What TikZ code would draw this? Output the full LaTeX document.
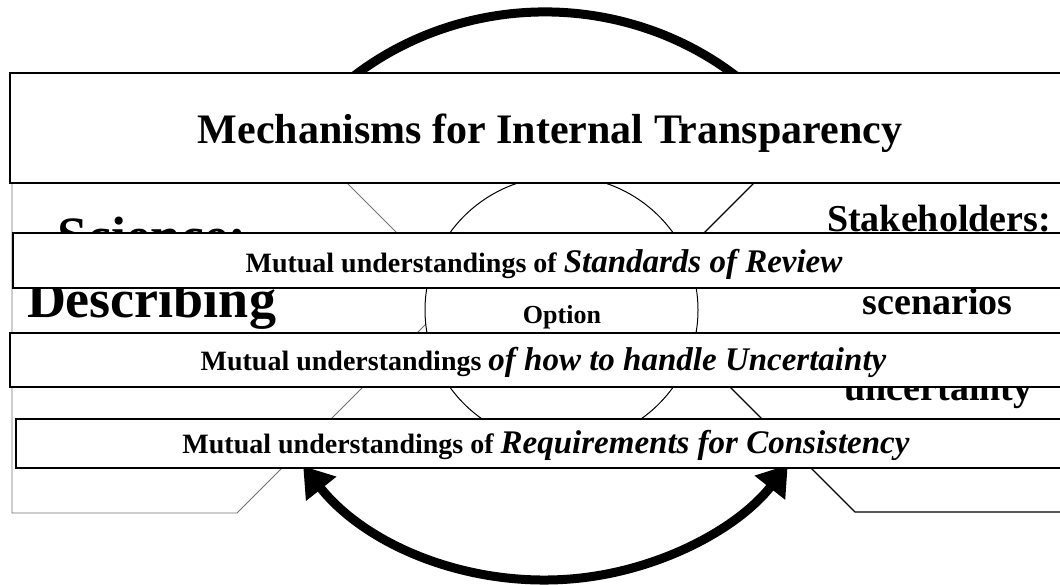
\documentclass[tikz,border=0pt]{standalone}
\usepackage{fontspec}
\setmainfont{Liberation Serif}
\usetikzlibrary{arrows.meta,shapes.geometric}
\begin{document}
\begin{tikzpicture}[x=1pt,y=-1pt,
  band/.style={draw=black, line width=2pt, fill=white},
  cycarc/.style={draw=black, line width=9pt},
  leftchev/.style={draw=black!55, line width=0.8pt, fill=white},
  rightchev/.style={draw=black, line width=1.3pt, fill=white},
  optcircle/.style={draw=black, line width=1pt, fill=white},
  sidetext/.style={anchor=base, inner sep=0pt, font=\bfseries},
  bandtext/.style={anchor=base, inner sep=0pt}]
\useasboundingbox (0,0) rectangle (1060,584);
\clip (0,0) rectangle (1060,584);

% cycle arcs
\coordinate (cyc) at (545,296);
\draw[cycarc] (cyc) ++(200:302 and 284) arc[start angle=200, end angle=340, x radius=302, y radius=284];
\draw[cycarc, {Triangle[length=29pt,width=37pt]}-{Triangle[length=29pt,width=37pt]}]
  (cyc) ++(143.2:302 and 284) arc[start angle=143.2, end angle=36.5, x radius=302, y radius=284];

% chevrons
\draw[leftchev] (12,73) -- (237,73) -- (457,293) -- (237,513) -- (12,513) -- cycle;
\draw[rightchev] (1075,73) -- (864,73) -- (640,297) -- (855,512) -- (1075,512) -- cycle;

% central option circle
\node[optcircle, ellipse, minimum width=273pt, minimum height=268pt, inner sep=0pt] (opt) at (561.5,310) {};
\node[sidetext, font=\bfseries\fontsize{26}{30}\selectfont] (opttext) at (562,323) {Option};

% side texts
\node[sidetext, font=\bfseries\fontsize{54}{60}\selectfont] (sci) at (151.5,254) {Science:};
\node[sidetext, font=\bfseries\fontsize{54}{60}\selectfont] (desc) at (151.5,317) {Describing};
\node[sidetext, font=\bfseries\fontsize{38}{44}\selectfont] (stake) at (939,231) {Stakeholders:};
\node[sidetext, font=\bfseries\fontsize{38}{44}\selectfont] (scen) at (937.5,314) {scenarios};
\node[sidetext, font=\bfseries\fontsize{38}{44}\selectfont] (unc) at (938.5,400) {uncertainty};

% bands
\draw[band] (10,73) rectangle (1075,183);
\node[bandtext, font=\bfseries\fontsize{42}{48}\selectfont] (mech) at (550,143) {Mechanisms for Internal Transparency};

\draw[band] (13,233) rectangle (1075,288);
\node[bandtext] (sor) at (544,272) {{\bfseries\fontsize{28}{32}\selectfont Mutual understandings of }{\bfseries\itshape\fontsize{33}{38}\selectfont Standards of Review}};

\draw[band] (10,333) rectangle (1075,387);
\node[bandtext] (unch) at (543.5,370) {{\bfseries\fontsize{28}{32}\selectfont Mutual understandings }{\bfseries\itshape\fontsize{33}{38}\selectfont of how to handle Uncertainty}};

\draw[band] (16,419) rectangle (1075,468);
\node[bandtext] (req) at (546,453) {{\bfseries\fontsize{28}{32}\selectfont Mutual understandings of }{\bfseries\itshape\fontsize{33}{38}\selectfont Requirements for Consistency}};
\end{tikzpicture}
\end{document}
